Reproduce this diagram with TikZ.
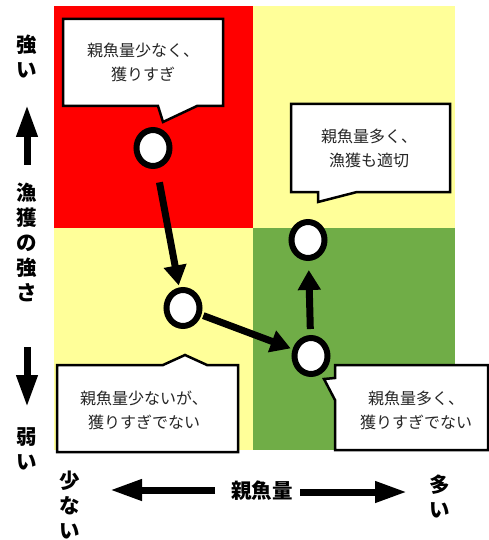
\documentclass[tikz,border=0pt]{standalone}
\usepackage{fontspec}
\newfontfamily\jp{Noto Sans CJK JP}
\usetikzlibrary{arrows.meta,shapes.geometric}

\definecolor{overred}{RGB}{255,0,0}
\definecolor{paleyellow}{RGB}{255,255,153}
\definecolor{goodgreen}{RGB}{112,173,71}

\tikzset{
  state/.style={ellipse, draw=black, fill=white, line width=6pt, minimum width=33pt, minimum height=36pt, inner sep=0pt},
  move/.style={line width=7pt, -{Triangle[length=20pt,width=22pt]}},
  axisarrow/.style={line width=7pt, -{Triangle[length=32pt,width=20pt]}},
  callout/.style={draw=black, fill=white, line width=2.5pt, line join=miter},
  calltext/.style={font=\jp\fontsize{16}{24}\selectfont, text=black!85, align=center},
  axislabel/.style={font=\jp\bfseries\fontsize{20.5}{25}\selectfont, align=center}
}

\begin{document}
\begin{tikzpicture}[x=1pt,y=-1pt]

\useasboundingbox (0,0) rectangle (489,540);

%draw the four quadrants
\fill [overred] (54,6) rectangle (253,228);
\fill [paleyellow] (253,6) rectangle (455,228);
\fill [paleyellow] (54,228) rectangle (253,450);
\fill [goodgreen] (253,228) rectangle (455,450);

%draw the callouts
\draw [callout] (63,19) -- (223,19) -- (223,106) -- (197,106) -- (163,122) -- (158,106) -- (63,106) -- cycle;
\node [calltext] (overfished) at (143,62) {親魚量少なく、\\獲りすぎ};

\draw [callout] (291,104) -- (450,104) -- (450,192) -- (357,192) -- (318,202) -- (318,192) -- (291,192) -- cycle;
\node [calltext] (healthy) at (369,148) {親魚量多く、\\漁獲も適切};

\draw [callout] (57,365) -- (163,365) -- (185,355) -- (207,365) -- (238,365) -- (238,452) -- (57,452) -- cycle;
\node [calltext] (lowstock) at (144,410) {親魚量少ないが、\\獲りすぎでない};

\draw [callout] (335,365) -- (488,365) -- (488,450) -- (335,450) -- (335,400) -- (324,379) -- (335,378) -- cycle;
\node [calltext] (highstock) at (416,410) {親魚量多く、\\獲りすぎでない};

%draw the path of the stock
\node [state] (s1) at (153,148) {};
\node [state] (s2) at (183,308) {};
\node [state] (s3) at (311,356) {};
\node [state] (s4) at (308,240) {};

\draw [move, shorten <=14pt, shorten >=2pt] (s1) -- (s2);
\draw [move, shorten <=2pt, shorten >=2pt] (s2) -- (s3);
\draw [move, shorten <=6pt, shorten >=9pt] (s3) -- (s4);

%draw the axes
\node [axislabel] (strong) at (27,57) {強\\い};
\node [axislabel] (effort) at (27,242) {漁\\獲\\の\\強\\さ};
\node [axislabel] (weak) at (27,449) {弱\\い};
\coordinate (upfrom) at (27,165);
\coordinate (upto) at (27,105);
\coordinate (downfrom) at (27,347);
\coordinate (downto) at (27,407);
\draw [axisarrow] (upfrom) -- (upto);
\draw [axisarrow] (downfrom) -- (downto);

\node [axislabel] (few) at (70,505) {少\\な\\い};
\node [axislabel] (stock) at (262,491) {親魚量};
\node [axislabel] (many) at (440,496) {多\\い};
\coordinate (leftfrom) at (215,490);
\coordinate (leftto) at (110,490);
\coordinate (rightfrom) at (300,492);
\coordinate (rightto) at (407,492);
\draw [axisarrow] (leftfrom) -- (leftto);
\draw [axisarrow] (rightfrom) -- (rightto);

\end{tikzpicture}
\end{document}
